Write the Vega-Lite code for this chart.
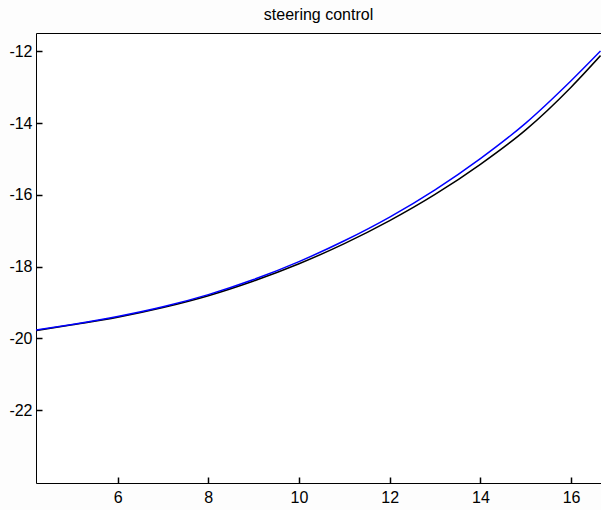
{
  "$schema": "https://vega.github.io/schema/vega-lite/v6.json",
  "width": 565,
  "height": 450,
  "autosize": {"type": "none"},
  "padding": {"left": 36, "top": 33, "right": 0, "bottom": 27},
  "background": "#fdfdfd",
  "title": {"text": "steering control", "font": "Liberation Sans", "fontSize": 16, "fontWeight": "normal", "color": "#000000", "offset": 10},
  "config": {
    "view": {"stroke": "#000000", "strokeWidth": 1, "fill": "#ffffff"},
    "axis": {"grid": false, "title": null, "labelFont": "Liberation Sans", "labelFontSize": 16, "labelColor": "#000000"}
  },
  "data": {"values": [
    {"x": 4.2, "y": -19.78, "series": "black"},
    {"x": 5, "y": -19.62, "series": "black"},
    {"x": 6, "y": -19.41, "series": "black"},
    {"x": 7, "y": -19.14, "series": "black"},
    {"x": 8, "y": -18.81, "series": "black"},
    {"x": 9, "y": -18.40, "series": "black"},
    {"x": 10, "y": -17.92, "series": "black"},
    {"x": 11, "y": -17.36, "series": "black"},
    {"x": 12, "y": -16.72, "series": "black"},
    {"x": 13, "y": -15.99, "series": "black"},
    {"x": 14, "y": -15.15, "series": "black"},
    {"x": 15, "y": -14.19, "series": "black"},
    {"x": 16, "y": -13.0, "series": "black"},
    {"x": 16.65, "y": -12.12, "series": "black"},
    {"x": 4.2, "y": -19.77, "series": "blue"},
    {"x": 5, "y": -19.61, "series": "blue"},
    {"x": 6, "y": -19.39, "series": "blue"},
    {"x": 7, "y": -19.12, "series": "blue"},
    {"x": 8, "y": -18.78, "series": "blue"},
    {"x": 9, "y": -18.36, "series": "blue"},
    {"x": 10, "y": -17.86, "series": "blue"},
    {"x": 11, "y": -17.28, "series": "blue"},
    {"x": 12, "y": -16.62, "series": "blue"},
    {"x": 13, "y": -15.86, "series": "blue"},
    {"x": 14, "y": -14.99, "series": "blue"},
    {"x": 15, "y": -14.0, "series": "blue"},
    {"x": 16, "y": -12.82, "series": "blue"},
    {"x": 16.65, "y": -11.99, "series": "blue"}
  ]},
  "mark": {"type": "line", "strokeWidth": 1.5, "clip": true, "interpolate": "monotone"},
  "encoding": {
    "x": {"field": "x", "type": "quantitative", "scale": {"domain": [4.2, 16.66], "nice": false, "zero": false},
          "axis": {"orient": "bottom", "values": [6, 8, 10, 12, 14, 16], "ticks": true, "tickSize": 6, "tickColor": "#000000", "tickWidth": 1.5, "domainColor": "transparent", "offset": -6, "labelPadding": 6}},
    "y": {"field": "y", "type": "quantitative", "scale": {"domain": [-24.03, -11.49], "nice": false, "zero": false},
          "axis": {"orient": "left", "values": [-22, -20, -18, -16, -14, -12], "ticks": true, "tickSize": 6, "tickColor": "#000000", "tickWidth": 1.5, "domainColor": "transparent", "offset": -6, "labelPadding": 4, "labelExpr": "replace(datum.label, '\u2212', '-')"}},
    "color": {"field": "series", "type": "nominal", "scale": {"domain": ["black", "blue"], "range": ["#000000", "#0000ff"]}, "legend": null}
  }
}
